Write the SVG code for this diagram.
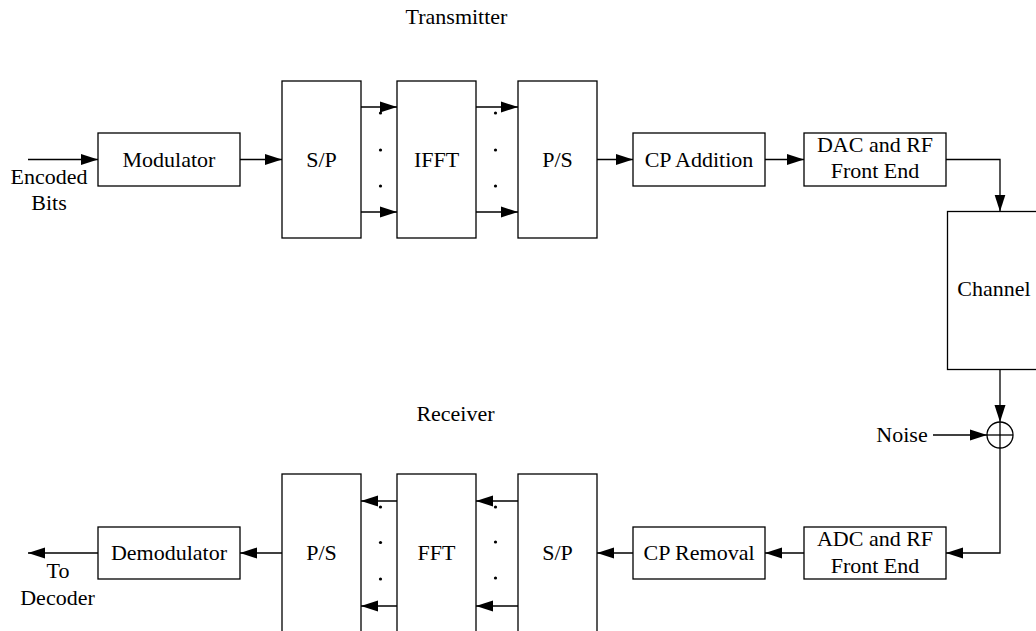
<svg xmlns="http://www.w3.org/2000/svg" width="1036" height="631" viewBox="0 0 1036 631">
<style>
.box{fill:#fff;stroke:#000;stroke-width:1.3}
.t{font-family:"Liberation Serif","Times New Roman",serif;font-size:22px;fill:#000;text-anchor:middle}
.ln{fill:none;stroke:#000;stroke-width:1.3}
.arr{fill:none;stroke:#000;stroke-width:1.3;marker-end:url(#ah)}
.dot{fill:#000}
</style>
<defs>
<marker id="ah" markerUnits="userSpaceOnUse" markerWidth="17" markerHeight="12" refX="17" refY="6" orient="auto">
<path d="M0,0.5 L17,6 L0,11.5 z" fill="#000"/>
</marker>
</defs>
<rect width="1036" height="631" fill="#fff"/>
<text class="t" x="456.5" y="24">Transmitter</text>
<text class="t" x="455.5" y="421">Receiver</text>

<g id="connectors">
<line class="arr" x1="28" y1="159.5" x2="98" y2="159.5"/>
<line class="arr" x1="240" y1="159.5" x2="282" y2="159.5"/>
<line class="arr" x1="361" y1="107" x2="397" y2="107"/>
<line class="arr" x1="361" y1="212" x2="397" y2="212"/>
<line class="arr" x1="476" y1="107" x2="518" y2="107"/>
<line class="arr" x1="476" y1="212" x2="518" y2="212"/>
<line class="arr" x1="597" y1="159.5" x2="633" y2="159.5"/>
<line class="arr" x1="765" y1="159.5" x2="804" y2="159.5"/>
<polyline class="arr" points="946,159.5 1000,159.5 1000,211.5"/>
<line class="arr" x1="1000" y1="369.5" x2="1000" y2="422"/>
<line class="arr" x1="933" y1="435" x2="987" y2="435"/>
<polyline class="arr" points="1000,448 1000,553 946,553"/>
<line class="arr" x1="804" y1="553" x2="765" y2="553"/>
<line class="arr" x1="633" y1="553" x2="597" y2="553"/>
<line class="arr" x1="518" y1="501" x2="476" y2="501"/>
<line class="arr" x1="518" y1="606" x2="476" y2="606"/>
<line class="arr" x1="397" y1="501" x2="361" y2="501"/>
<line class="arr" x1="397" y1="606" x2="361" y2="606"/>
<line class="arr" x1="282" y1="553" x2="240" y2="553"/>
<line class="arr" x1="98" y1="553" x2="28" y2="553"/>
<g id="dots">
<circle class="dot" cx="380.5" cy="113" r="1.6"/>
<circle class="dot" cx="380.5" cy="150" r="1.6"/>
<circle class="dot" cx="380.5" cy="186" r="1.6"/>
<circle class="dot" cx="495.5" cy="113" r="1.6"/>
<circle class="dot" cx="495.5" cy="150" r="1.6"/>
<circle class="dot" cx="495.5" cy="186" r="1.6"/>
<circle class="dot" cx="380.5" cy="507" r="1.6"/>
<circle class="dot" cx="380.5" cy="542.5" r="1.6"/>
<circle class="dot" cx="380.5" cy="579" r="1.6"/>
<circle class="dot" cx="495.5" cy="507" r="1.6"/>
<circle class="dot" cx="495.5" cy="542" r="1.6"/>
<circle class="dot" cx="495.5" cy="578" r="1.6"/>
</g>
</g>

<g id="encoded-bits">
<text class="t" x="49" y="184">Encoded</text>
<text class="t" x="49" y="210">Bits</text>
</g>
<g id="modulator">
<rect class="box" x="98" y="133" width="142" height="53"/>
<text class="t" x="169" y="167">Modulator</text>
</g>
<g id="tx-sp">
<rect class="box" x="282" y="81" width="79" height="157"/>
<text class="t" x="321.5" y="167">S/P</text>
</g>
<g id="ifft">
<rect class="box" x="397" y="81" width="79" height="157"/>
<text class="t" x="436.5" y="167">IFFT</text>
</g>
<g id="tx-ps">
<rect class="box" x="518" y="81" width="79" height="157"/>
<text class="t" x="557.5" y="167">P/S</text>
</g>
<g id="cp-addition">
<rect class="box" x="633" y="133" width="132" height="53"/>
<text class="t" x="699" y="167">CP Addition</text>
</g>
<g id="dac">
<rect class="box" x="804" y="133" width="142" height="53"/>
<text class="t" x="875" y="151.5">DAC and RF</text>
<text class="t" x="875" y="178">Front End</text>
</g>
<g id="channel">
<rect class="box" x="947.5" y="211.5" width="95" height="158"/>
<text class="t" x="994" y="296">Channel</text>
</g>
<g id="sum">
<circle class="ln" cx="1000" cy="435" r="13"/>
<line class="ln" x1="987" y1="435" x2="1013" y2="435"/>
<line class="ln" x1="1000" y1="422" x2="1000" y2="448"/>
</g>
<g id="noise">
<text class="t" x="902" y="442">Noise</text>
</g>
<g id="adc">
<rect class="box" x="804" y="527" width="142" height="52"/>
<text class="t" x="875" y="546">ADC and RF</text>
<text class="t" x="875" y="572.5">Front End</text>
</g>
<g id="cp-removal">
<rect class="box" x="633" y="527" width="132" height="52"/>
<text class="t" x="699" y="560">CP Removal</text>
</g>
<g id="rx-sp">
<rect class="box" x="518" y="474" width="79" height="165"/>
<text class="t" x="557.5" y="560">S/P</text>
</g>
<g id="fft">
<rect class="box" x="397" y="474" width="79" height="165"/>
<text class="t" x="436.5" y="560">FFT</text>
</g>
<g id="rx-ps">
<rect class="box" x="282" y="474" width="79" height="165"/>
<text class="t" x="321.5" y="560">P/S</text>
</g>
<g id="demodulator">
<rect class="box" x="98" y="527" width="142" height="52"/>
<text class="t" x="169" y="560">Demodulator</text>
</g>
<g id="to-decoder">
<text class="t" x="58" y="578">To</text>
<text class="t" x="57.5" y="605">Decoder</text>
</g>
</svg>
